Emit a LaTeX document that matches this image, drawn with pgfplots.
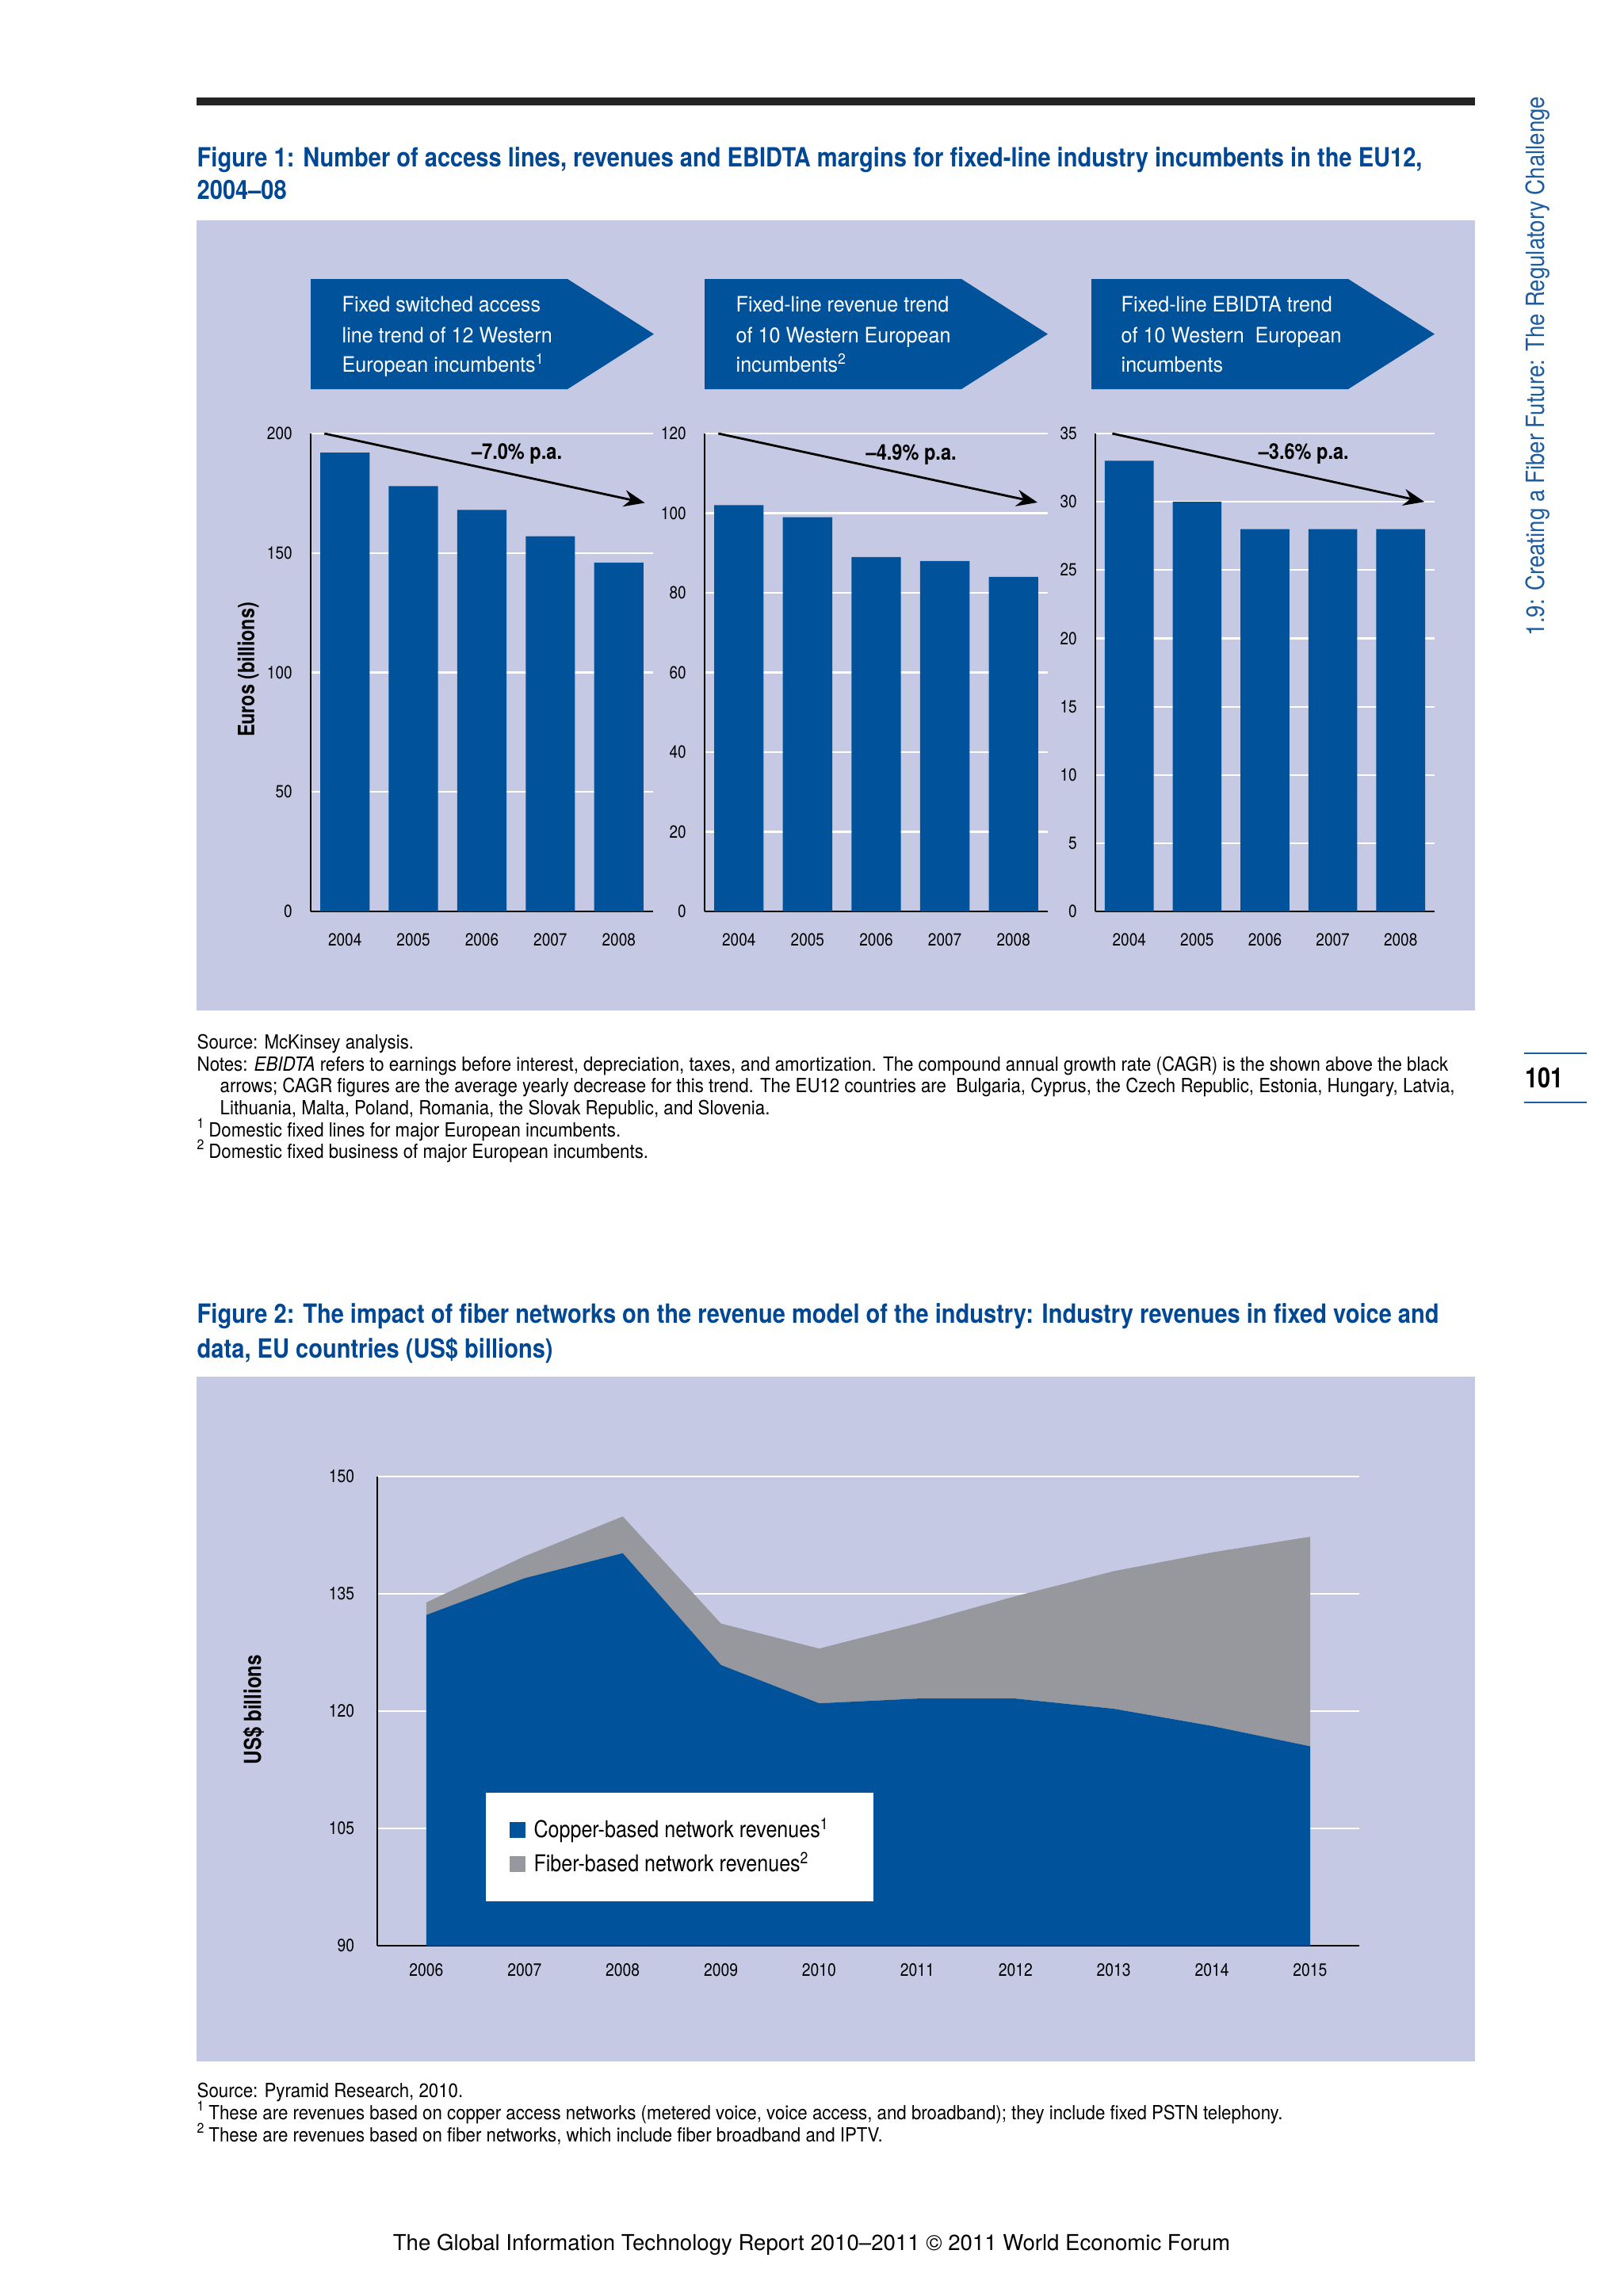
\documentclass[border=0pt]{standalone}
\usepackage{fontspec}
\setmainfont{TeX Gyre Heros}[FakeStretch=0.86]
\newfontfamily\cn{TeX Gyre Heros}[FakeStretch=0.82]
\newfontfamily\tf{TeX Gyre Heros}[FakeStretch=0.87]
\newfontfamily\nf{TeX Gyre Heros}[FakeStretch=0.905]
\newfontfamily\bxf{TeX Gyre Heros}[FakeStretch=0.94]
\newfontfamily\sidef{TeX Gyre Heros}[FakeStretch=0.875]
\newfontfamily\wide{TeX Gyre Heros}
\usepackage{pgfplots}
\pgfplotsset{compat=1.18}
\usetikzlibrary{arrows.meta}
\definecolor{wefblue}{RGB}{0,82,155}
\definecolor{titleblue}{RGB}{0,72,148}
\definecolor{lav}{RGB}{198,201,228}
\definecolor{fibergray}{RGB}{150,152,158}
\definecolor{sideblue}{RGB}{30,92,160}
\definecolor{rulegray}{RGB}{35,35,35}
\newcommand{\titf}{\tf\bfseries\fontsize{9.5}{11}\selectfont}
\newcommand{\boxf}{\bxf\fontsize{7.6}{9}\selectfont}
\newcommand{\notef}{\nf\fontsize{7.0}{8}\selectfont}
\newcommand{\annf}{\bfseries\fontsize{7.8}{9}\selectfont}
\pgfplotsset{
 fpanel/.style={
   scale only axis, height=6.03cm, ymin=0,
   xmin=-0.5, xmax=4.5,
   axis x line=bottom, axis y line=left,
   axis line style={-, black, line width=0.75pt},
   major tick length=0pt,
   ymajorgrids, major grid style={white, line width=0.6pt},
   xtick={0,1,2,3,4}, xticklabels={2004,2005,2006,2007,2008},
   tick label style={font=\fontsize{6.3}{7.5}\selectfont},
   yticklabel style={xshift=-3.1pt},
   xticklabel style={yshift=-4.3pt},
   /pgf/number format/assume math mode=true,
   clip=false,
 },
 fbar/.style={ybar, bar width=0.72, fill=wefblue, draw=none},
 farrow/.style={black, line width=0.8pt, -{Stealth[length=7.5pt,width=6pt]}},
}
\begin{document}
\begin{tikzpicture}
\path[use as bounding box, fill=white] (0,0) rectangle (20.48,-28.97);
% top rule
\fill[rulegray] (2.48,-1.23) rectangle (18.61,-1.33);
% Figure 1 title
\node[anchor=base west, inner sep=0, text=titleblue, font=\titf] at (2.48,-2.10) {Figure 1: Number of access lines, revenues and EBIDTA margins for fixed-line industry incumbents in the EU12,};
\node[anchor=base west, inner sep=0, text=titleblue, font=\titf] at (2.48,-2.51) {2004\textendash08};
% backgrounds
\fill[lav] (2.48,-2.78) rectangle (18.61,-12.75);
\fill[lav] (2.48,-17.37) rectangle (18.61,-26.01);
% arrow boxes
\fill[wefblue] (3.92,-3.52) -- (7.16,-3.52) -- (8.25,-4.215) -- (7.16,-4.91) -- (3.92,-4.91) -- cycle;
\fill[wefblue] (8.89,-3.52) -- (12.13,-3.52) -- (13.22,-4.215) -- (12.13,-4.91) -- (8.89,-4.91) -- cycle;
\fill[wefblue] (13.77,-3.52) -- (17.01,-3.52) -- (18.10,-4.215) -- (17.01,-4.91) -- (13.77,-4.91) -- cycle;
\begin{scope}[every node/.style={anchor=base west, inner sep=0, text=white, font=\boxf}]
\node at (4.31,-3.93) {Fixed switched access};
\node at (4.31,-4.32) {line trend of 12 Western};
\node at (4.31,-4.69) {European incumbents\textsuperscript{1}};
\node at (9.28,-3.93) {Fixed-line revenue trend};
\node at (9.28,-4.32) {of 10 Western European};
\node at (9.28,-4.69) {incumbents\textsuperscript{2}};
\node at (14.14,-3.93) {Fixed-line EBIDTA trend};
\node at (14.14,-4.32) {of 10 Western \ European};
\node at (14.14,-4.69) {incumbents};
\end{scope}
% y label fig 1
\node[rotate=90, inner sep=0, font=\cn\bfseries\fontsize{8.1}{9}\selectfont] at (3.13,-8.45) {Euros (billions)};

% Panel 1
\begin{axis}[fpanel, at={(3.92cm,-11.50cm)}, anchor=south west, width=4.32cm, ymax=200, ytick={0,50,...,200}]
\addplot[fbar] coordinates {(0,192) (1,178) (2,168) (3,157) (4,146)};
\addplot[farrow] coordinates {(-0.3,200) (4.38,171)};
\node[font=\annf] at (axis cs:2.51,191.4) {\textendash7.0\% p.a.};
\end{axis}
% Panel 2
\begin{axis}[fpanel, at={(8.89cm,-11.50cm)}, anchor=south west, width=4.33cm, ymax=120, ytick={0,20,...,120}]
\addplot[fbar] coordinates {(0,102) (1,99) (2,89) (3,88) (4,84)};
\addplot[farrow] coordinates {(-0.3,120) (4.35,102.7)};
\node[font=\annf] at (axis cs:2.51,114.8) {\textendash4.9\% p.a.};
\end{axis}
% Panel 3
\begin{axis}[fpanel, at={(13.82cm,-11.50cm)}, anchor=south west, width=4.28cm, ymax=35, ytick={0,5,...,35}]
\addplot[fbar] coordinates {(0,33) (1,30) (2,28) (3,28) (4,28)};
\addplot[farrow] coordinates {(-0.25,35) (4.35,30)};
\node[font=\annf] at (axis cs:2.57,33.5) {\textendash3.6\% p.a.};
\end{axis}

% notes fig 1
\begin{scope}[every node/.style={anchor=base west, inner sep=0, font=\notef}]
\node at (2.48,-13.23) {Source: McKinsey analysis.};
\node at (2.48,-13.51) {Notes: \textit{EBIDTA} refers to earnings before interest, depreciation, taxes, and amortization. The compound annual growth rate (CAGR) is the shown above the black};
\node at (2.77,-13.78) {arrows; CAGR figures are the average yearly decrease for this trend. The EU12 countries are \ Bulgaria, Cyprus, the Czech Republic, Estonia, Hungary, Latvia,};
\node at (2.77,-14.06) {Lithuania, Malta, Poland, Romania, the Slovak Republic, and Slovenia.};
\node at (2.48,-14.34) {\textsuperscript{1}\,Domestic fixed lines for major European incumbents.};
\node at (2.48,-14.61) {\textsuperscript{2}\,Domestic fixed business of major European incumbents.};
\end{scope}

% Figure 2 title
\node[anchor=base west, inner sep=0, text=titleblue, font=\titf] at (2.48,-16.69) {Figure 2: The impact of fiber networks on the revenue model of the industry: Industry revenues in fixed voice and};
\node[anchor=base west, inner sep=0, text=titleblue, font=\titf] at (2.48,-17.13) {data, EU countries (US\$ billions)};
\node[rotate=90, inner sep=0, font=\cn\bfseries\fontsize{8.4}{9}\selectfont] at (3.20,-21.57) {US\$ billions};

\begin{axis}[
 at={(4.76cm,-24.55cm)}, anchor=south west, scale only axis,
 width=12.39cm, height=5.92cm,
 xmin=2005.5, xmax=2015.5, ymin=90, ymax=150,
 ytick={90,105,120,135,150}, xtick={2006,...,2015},
 axis x line=bottom, axis y line=left,
 axis line style={-, black, line width=0.8pt},
 major tick length=0pt,
 ymajorgrids, major grid style={white, line width=0.6pt},
 stack plots=y,
 /pgf/number format/1000 sep={},
 /pgf/number format/assume math mode=true,
 tick label style={font=\fontsize{6.4}{7.5}\selectfont},
 yticklabel style={xshift=-4.7pt},
 xticklabel style={yshift=-3.0pt},
 legend style={at={(0.1098,0.093)}, anchor=south west, draw=none, fill=white,
   inner xsep=8.7pt, inner ysep=8.3pt,
   nodes={inner sep=1pt},
   font=\fontsize{8.3}{9}\selectfont, row sep=1.7pt, column sep=2pt},
 legend cell align=left,
 legend image code/.code={\fill[#1] (0pt,-2.8pt) rectangle (5.6pt,2.8pt);},
]
\addplot[fill=wefblue, draw=none] coordinates {(2006,132.3) (2007,137.0) (2008,140.2) (2009,125.9) (2010,121.0) (2011,121.6) (2012,121.6) (2013,120.3) (2014,118.1) (2015,115.5)} \closedcycle;
\addplot[fill=fibergray, draw=none] coordinates {(2006,1.6) (2007,2.8) (2008,4.7) (2009,5.3) (2010,7.0) (2011,9.6) (2012,13.1) (2013,17.6) (2014,22.2) (2015,26.8)} \closedcycle;
\legend{Copper-based network revenues\textsuperscript{1}\hspace*{6pt}, Fiber-based network revenues\textsuperscript{2}}
\end{axis}

% notes fig 2
\begin{scope}[every node/.style={anchor=base west, inner sep=0, font=\notef}]
\node at (2.48,-26.46) {Source: Pyramid Research, 2010.};
\node at (2.48,-26.74) {\textsuperscript{1}\,These are revenues based on copper access networks (metered voice, voice access, and broadband); they include fixed PSTN telephony.};
\node at (2.48,-27.02) {\textsuperscript{2}\,These are revenues based on fiber networks, which include fiber broadband and IPTV.};
\end{scope}

% side text and page number
\node[rotate=90, anchor=base west, inner sep=0, text=sideblue, font=\sidef\fontsize{9}{11}\selectfont] at (19.48,-8.03) {1.9: Creating a Fiber Future: The Regulatory Challenge};
\draw[sideblue, line width=0.5pt] (19.23,-13.29) -- (20.02,-13.29);
\draw[sideblue, line width=0.5pt] (19.23,-13.91) -- (20.02,-13.91);
\node[anchor=base west, inner sep=0, font=\cn\bfseries\fontsize{10}{12}\selectfont] at (19.24,-13.72) {101};

% footer
\node[anchor=base, inner sep=0, font=\wide\fontsize{7.85}{10}\selectfont] at (10.24,-28.39) {The Global Information Technology Report 2010\textendash2011 \textcopyright\ 2011 World Economic Forum};
\end{tikzpicture}
\end{document}
